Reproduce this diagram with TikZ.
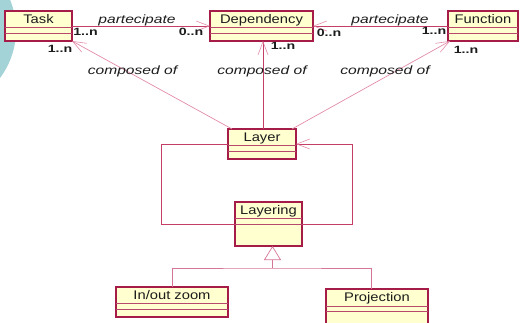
\documentclass[tikz,border=0pt]{standalone}
\usepackage{fontspec}
\setmainfont{Liberation Sans}
\newfontfamily\titlefont[FakeStretch=1.18]{Liberation Sans}
\newfontfamily\rolefont[FakeStretch=1.3]{Liberation Sans}
\newfontfamily\multfont[FakeStretch=1.35]{Liberation Sans}
\usetikzlibrary{arrows.meta}

\definecolor{bgteal}{RGB}{164,211,215}
\definecolor{boxfill}{RGB}{255,255,208}
\definecolor{boxedge}{RGB}{165,28,72}
\definecolor{assocline}{RGB}{196,62,104}
\definecolor{softline}{RGB}{226,140,168}
\definecolor{inkgray}{RGB}{28,28,28}

\tikzset{
  classbox/.style={draw=boxedge, fill=boxfill, line width=1.3pt, inner sep=0pt, outer sep=0pt},
  divider/.style={draw=boxedge!80, line width=0.8pt},
  boxtitle/.style={anchor=base, inner sep=0pt, text=inkgray, font=\titlefont\fontsize{12.5}{14}\selectfont},
  rolelabel/.style={anchor=base, inner sep=0pt, text=inkgray, font=\rolefont\itshape\fontsize{12}{14}\selectfont},
  multlabel/.style={anchor=base, inner sep=0pt, text=inkgray, font=\multfont\bfseries\fontsize{10.5}{12}\selectfont},
  barb/.style={-{Straight Barb[length=13pt, width=10pt, line width=0.6pt, color=softline]}},
  assoc/.style={draw=assocline, line width=0.9pt},
  composeline/.style={draw=softline, line width=0.7pt},
  loopline/.style={draw=assocline, line width=0.9pt},
  genline/.style={draw=softline!80!boxedge, line width=0.9pt},
}

% class box: name, centre x, top y, width, height, title, first divider offset
\newcommand\umlbox[7]{%
  \node[classbox, minimum width=#4pt, minimum height=#5pt, anchor=north] (#1) at (#2,#3) {};
  \draw[divider] ([yshift=-#7pt]#1.north west) -- ([yshift=-#7pt]#1.north east);
  \draw[divider] ([yshift=-22pt]#1.north west) -- ([yshift=-22pt]#1.north east);
  \node[boxtitle] at ([yshift=-12.5pt]#1.north) {#6};
}

\begin{document}
\begin{tikzpicture}[x=1pt, y=-1pt]
  \useasboundingbox (0,0) rectangle (520,322);
  \clip (0,0) rectangle (520,322);

  % backdrop arc on the left
  \fill[bgteal] (-64,30) circle (80pt);

  % classes
  \umlbox{Task}{38.5}{11}{67}{30}{Task}{16}
  \umlbox{Dep}{261.5}{11}{103}{30}{Dependency}{16}
  \umlbox{Func}{483}{11}{70}{30}{Function}{16}
  \umlbox{Layer}{262}{129}{68}{30}{Layer}{16}
  \umlbox{Layering}{268.5}{202}{67}{44}{Layering}{16}
  \umlbox{Zoom}{172}{287}{112}{30}{In/out zoom}{16}
  \umlbox{Proj}{377}{289}{102}{40}{Projection}{17}

  % partecipate associations
  \draw[assoc, barb] (Task.east) -- (Dep.west);
  \draw[assoc, barb] (Func.west) -- (Dep.east);
  \node[rolelabel] at (137,23) {partecipate};
  \node[rolelabel] at (390,23) {partecipate};
  \node[multlabel] at (85.5,35) {1..n};
  \node[multlabel] at (191,35) {0..n};
  \node[multlabel] at (329,36) {0..n};
  \node[multlabel] at (434,34) {1..n};

  % composition from Layer
  \draw[composeline, barb] ([xshift=4pt]Layer.north west) -- (Task.south east);
  \draw[assoc, barb] ([xshift=1pt]Layer.north) -- ([xshift=1.5pt]Dep.south);
  \draw[composeline, barb] ([xshift=-4pt]Layer.north east) -- ([xshift=2pt]Func.south west);
  \node[rolelabel] at (132.5,74) {composed of};
  \node[rolelabel] at (262,74) {composed of};
  \node[rolelabel] at (385,74) {composed of};
  \node[multlabel] at (60,52) {1..n};
  \node[multlabel] at (283,49) {1..n};
  \node[multlabel] at (466,53) {1..n};

  % Layer / Layering loop
  \draw[loopline] (Layering.west) -- ++(-74,0) |- (Layer.west);
  \draw[loopline, barb] (Layering.east) -- ++(50,0) |- (Layer.east);

  % generalization of Layering
  \coordinate (gen) at ([xshift=4pt, yshift=-22pt]Layering.south);
  \draw[genline] (Zoom.north) |- (gen) -| ([xshift=-6pt]Proj.north);
  \draw[genline, -{Triangle[open, length=14pt, width=17pt, fill=white, line width=0.7pt]}] (gen) -- ([xshift=4pt]Layering.south);
\end{tikzpicture}
\end{document}
